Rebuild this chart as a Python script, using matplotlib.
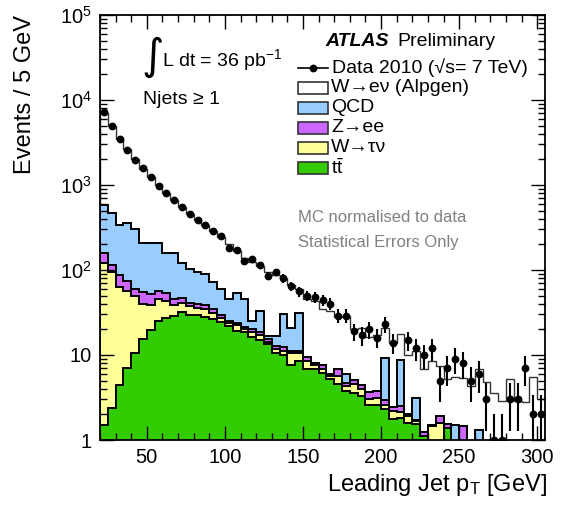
import numpy as np
import matplotlib
matplotlib.use("Agg")
from matplotlib import pyplot as plt
from matplotlib.patches import Rectangle
from matplotlib.lines import Line2D
from matplotlib.ticker import MultipleLocator, LogLocator, NullFormatter

plt.rcParams['font.family'] = ['Liberation Sans', 'DejaVu Sans']
plt.rcParams['mathtext.fontset'] = 'custom'
plt.rcParams['mathtext.rm'] = 'Liberation Sans'
plt.rcParams['mathtext.it'] = 'Liberation Sans:italic'
plt.rcParams['mathtext.bf'] = 'Liberation Sans:bold'

# leading jet pT, 5 GeV bins from 20 to 305 GeV
bin_edges = np.arange(20, 306, 5)

data = [7130, 4890, 3480, 2600, 1985, 1570, 1245, 984, 807, 661, 553, 462, 392, 340,
        284, 250, 183, 170, 127, 133, 113, 85, 94, 80, 64, 56, 50, 48, 44, 40, 29, 29,
        19, 17, 20, 16, 23, 14, 0, 15, 12, 10, 12, 5, 7, 9, 8, 5, 6, 3, 1, 1, 3, 3, 7, 2, 2]

ttbar = [1.5, 2.4, 4.4, 7.1, 10.7, 15.3, 19.5, 25.1, 27, 28.8, 32, 29.3, 29.3, 28, 26.3,
         24.5, 22, 19.2, 18.4, 16.5, 15, 13.4, 10.5, 10, 7.6, 8.5, 6.8, 6.9, 6.2, 5.2, 4.5,
         3.8, 3.6, 3.3, 2.6, 2.6, 2.3, 1.76, 1.8, 1.6, 1.54, 1.1, 0, 0, 1.37,
         0, 0, 0, 0, 0, 0, 0, 0, 0, 0, 0, 0]

wtaunu = [120.5, 93.6, 58.6, 49.4, 38.3, 24.2, 18.9, 19.9, 16, 9.6, 9.3, 8.4, 6.7, 7.2, 5.2,
          3, 1.6, 3.2, 1.7, 1.9, 2.1, 0.9, 1.4, 1.2, 2.9, 2, 1.7, 0.7, 0.7, 0.4, 1.1, 0.55,
          0.9, 0.73, 0.46, 0.52, 0.26, 0.45, 0.35, 0.3, 0.14, 0, 1.45, 1.6, 0,
          0, 0, 0, 0, 0, 0, 0, 0, 0, 0, 0, 0]

zee = [35, 20, 23.5, 17.5, 11, 15.5, 14.3, 11.5, 11, 7.6, 6, 2.8, 3.5, 3.2, 3, 1.8, 1.5, 1.7,
       1.5, 1.7, 1.3, 1.3, 0.9, 1.2, 0.7, 0.7, 0.85, 0.35, 0.7, 0.35, 1.2, 0.33, 0.56, 0.38,
       0.66, 0.7, 0.36, 0.21, 0.38, 0.12, 0.05, 0.15, 0.05, 0.32, 0.17, 0, 1.45,
       0, 0, 0, 0, 0, 0, 0, 0, 0, 0]

qcd = [432, 354, 256, 286, 245, 154, 156, 152, 105, 113, 74, 61.5, 55.5, 50.6, 37.5, 29.7,
       20.9, 29.9, 24.4, 4.9, 14.6, 1.1, 3.9, 17.6, 9.8, 19.8, 0, 0, 0, 0, 0, 1.28, 0, 0, 0,
       0, 6.28, 0, 6.23, 0, 1.36, 0, 0, 0, 0, 1.5, 0, 0, 1.32,
       0, 0, 0, 0, 0, 0, 0, 0]

wenu = [6411, 4430, 3157, 2290, 1695, 1351, 1041, 781, 651, 501, 424, 358, 295, 246, 213,
        186, 154, 114, 94, 100, 79, 79.3, 71.3, 50, 45, 29, 35.9, 35, 26.9, 27, 21.5, 22.9,
        15.4, 16.1, 12.6, 13.3, 11.8, 11.4, 8.8, 7.9, 8.1, 5.55, 7.0, 5.6, 3.7, 3.95, 3.85,
        4.3, 5.6, 4.76, 3.56, 2.89, 5.2, 2.89, 2.77, 5.45, 3.03]

stack = [ttbar, wtaunu, zee, qcd, wenu]
stack_colors = ['#33cc00', '#ffff99', '#cc66ff', '#99ccff', 'white']
legend_labels = ['W\u2192e\u03bd (Alpgen)', 'QCD', 'Z\u2192ee', 'W\u2192\u03c4\u03bd',
                 r'$\mathrm{t\bar{t}}$']

W, H = 567, 512
fig = plt.figure(figsize=(W / 100, H / 100), dpi=100)
ax = fig.add_axes([100 / W, 1 - 440 / H, 445 / W, 425 / H])

def fx(px):
    return px / W

def fy(py):
    return 1 - py / H

# stacked histograms, drawn from the total downwards
cum = np.cumsum(np.array(stack, dtype=float), axis=0)
for i in reversed(range(len(stack))):
    vals = np.clip(cum[i], 0.1, None)
    ax.stairs(vals, bin_edges, baseline=0.1, fill=True, color=stack_colors[i], lw=0)
    if i == len(stack) - 1:
        ax.stairs(vals, bin_edges, baseline=0.1, color='#333333', lw=1.0)
    else:
        ax.stairs(vals, bin_edges, baseline=0.1, color='black', lw=1.4)

# data with poisson errors
d = np.array(data, dtype=float)
centers = 0.5 * (bin_edges[:-1] + bin_edges[1:])
ok = d > 0
err = np.sqrt(d[ok])
lo = np.minimum(err, d[ok] - 0.05)
ax.errorbar(centers[ok], d[ok], yerr=[lo, err], fmt='o', color='black', ms=4.6,
            elinewidth=1.5, capsize=0, zorder=5)

ax.set_yscale('log')
ax.set_xlim(20, 305)
ax.set_ylim(1, 1e5)
ax.set_yticks([1, 10, 100, 1e3, 1e4, 1e5],
              ['1', '10', '$10^{2}$', '$10^{3}$', '$10^{4}$', '$10^{5}$'])
ax.yaxis.set_minor_locator(LogLocator(base=10, subs=np.arange(2, 10)))
ax.yaxis.set_minor_formatter(NullFormatter())
ax.xaxis.set_major_locator(MultipleLocator(50))
ax.xaxis.set_minor_locator(MultipleLocator(10))
ax.tick_params(which='both', direction='in', top=True, right=True, labelsize=14.5)
ax.tick_params(which='major', length=10, width=1.0, pad=6)
ax.tick_params(which='minor', length=5, width=1.0)
for s in ax.spines.values():
    s.set_linewidth(1.3)

fig.text(fx(25), fy(15), 'Events / 5 GeV', rotation=90, ha='center', va='top', fontsize=17)
fig.text(fx(547), fy(485), r'Leading Jet p$_\mathrm{T}$ [GeV]', ha='right', va='center',
         fontsize=17)

# labels
fig.text(fx(141), fy(57), '\u222b', family='DejaVu Sans', fontsize=31, ha='left', va='center')
fig.text(fx(162), fy(60), r'L dt = 36 pb$^{\mathregular{-1}}$', fontsize=14, ha='left',
         va='center')
fig.text(fx(143), fy(100), 'Njets \u2265 1', fontsize=14, ha='left', va='center')
fig.text(fx(325), fy(42), 'ATLAS', fontsize=14, fontweight='bold', fontstyle='italic',
         ha='left', va='center')
fig.text(fx(397), fy(42), 'Preliminary', fontsize=14, ha='left', va='center')

# legend
fig.add_artist(Line2D([fx(298), fx(328)], [fy(68), fy(68)], color='black', lw=1.2,
                      transform=fig.transFigure))
fig.add_artist(Line2D([fx(313)], [fy(68)], marker='o', ms=4.6, color='black',
                      transform=fig.transFigure))
fig.text(fx(332), fy(68), 'Data 2010 (\u221as= 7 TeV)', fontsize=14, ha='left', va='center')
rows = [88, 108, 128, 148, 168]
for j, (lab, col) in enumerate(zip(legend_labels, stack_colors[::-1])):
    fig.add_artist(Rectangle((fx(298), fy(rows[j] + 6)), 30 / W, 12 / H, facecolor=col,
                             edgecolor='#333333', lw=1.2, transform=fig.transFigure))
    fig.text(fx(331), fy(rows[j]), lab, fontsize=14, ha='left', va='center')

fig.text(fx(298), fy(218), 'MC normalised to data', fontsize=12, color='#808080',
         ha='left', va='center')
fig.text(fx(298), fy(242), 'Statistical Errors Only', fontsize=12, color='#808080',
         ha='left', va='center')

fig.savefig('out.png', dpi=100)
